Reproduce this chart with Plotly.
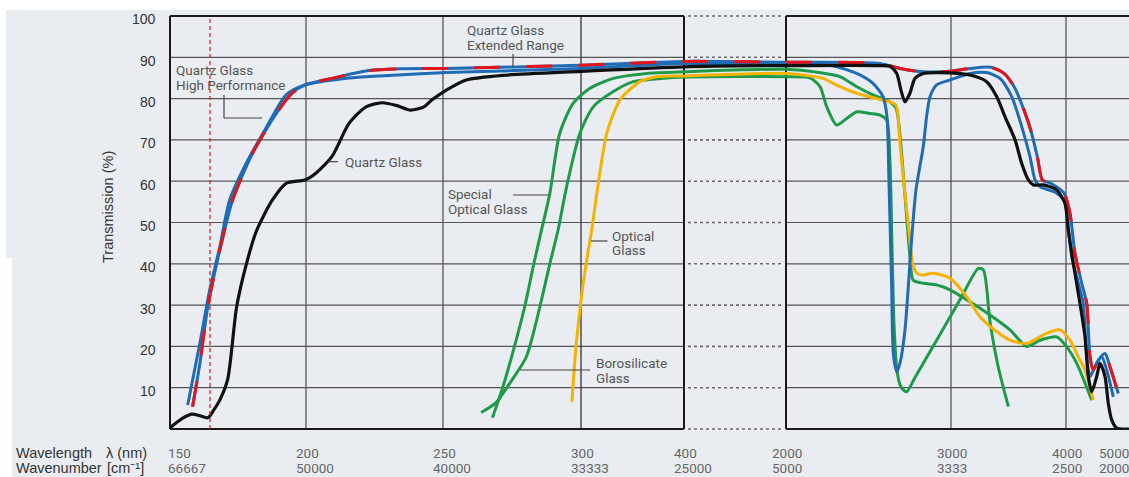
import numpy as np
import plotly.graph_objects as go

# ---------------- custom broken wavelength scale (nm -> axis units) ----------------
AXIS_NM = [150, 200, 250, 300, 400, 2000, 3000, 4000, 5000, 6000]
AXIS_POS = [170, 306, 443, 581, 684, 786, 951, 1066, 1113, 1160]

TICK_NM = [150, 200, 250, 300, 400, 2000, 3000, 4000, 5000]
TICK_WAVENUMBER = ["66667", "50000", "40000", "33333", "25000", "5000", "3333", "2500", "2000"]
Y_TICKS = [10, 20, 30, 40, 50, 60, 70, 80, 90, 100]
GRID_NM = [200, 250, 300, 3000, 4000]
BREAK_NM = [400, 2000]
MARK_NM = 164.7  # red dashed marker line

# ---------------- data (transmission %) ----------------
QG_WL = [150, 154.4, 157.9, 161, 163.9, 166, 168.3, 171.2, 174.5, 178.1,
         181.8, 187.6, 192.7, 199.6, 203.7, 209.5, 215.7, 221.9, 227.7, 233.2,
         238.2, 243, 246, 251.1, 258.4, 273, 300, 400, 2000, 2570,
         2630, 2671, 2697, 2721, 2751, 2782, 2832, 2933, 3165, 3310,
         3397, 3470, 3557, 3615, 3673, 3716, 3803, 3919, 3991, 4049,
         4155, 4298, 4404, 4475, 4547, 4653, 4724, 4830, 4900, 4972,
         5079, 5340]
QG_T = [0.3, 2.5, 3.6, 3.2, 2.7, 4.5, 7, 12, 29.6, 40,
        48, 55.4, 59.5, 60.3, 62, 66, 74, 78, 79, 78.3,
        77.2, 78, 79.7, 82, 84.5, 85.7, 86.6, 87.7, 88, 88,
        87.8, 86.1, 82, 79.2, 81.3, 84.9, 86.1, 86.3, 85.7, 84.1,
        80.5, 75.6, 70, 64.3, 60.3, 59.1, 59.1, 57.9, 54.6, 48.2,
        40.1, 30.4, 22.3, 12.7, 9, 12.7, 15.9, 12.7, 6.2, 2.2,
        0.2, 0]

QHP_WL = [156.5, 161, 164.6, 168.3, 171.9, 178.1, 185.4, 192.7, 199.6, 215.7,
          226.7, 251.1, 300, 400, 2000, 2267, 2428, 2527, 2588, 2612,
          2624, 2640, 2651, 2671, 2691, 2721, 2761, 2788, 2832, 2852,
          2873, 2913, 2994, 3165, 3310, 3426, 3528, 3615, 3687, 3731,
          3774, 3919, 3991, 4030, 4121, 4262, 4368, 4441, 4511, 4617,
          4760, 4866, 5007]
QHP_T = [5.8, 20.8, 33.7, 44.1, 55.4, 64.4, 73, 80.9, 83.3, 85,
         85.5, 86.3, 87.3, 88.5, 88.3, 88.1, 86.1, 83.7, 80.5, 75.6,
         60, 35, 18, 13.9, 16, 24, 45.8, 58, 68.4, 75.6,
         80.5, 83.3, 84.5, 86.1, 86.3, 84.9, 80.5, 73.2, 65.9, 60.3,
         58.7, 57.1, 55, 50.6, 41.7, 35.3, 30.4, 17.5, 12.7, 15.1,
         17.5, 14.3, 7.8]

QER_WL = [158.3, 161, 163.9, 168.3, 173, 180.3, 189.1, 194.9, 199.6, 209.5,
          221.9, 234, 251.1, 300, 400, 2000, 2570, 2691, 2832, 2994,
          3165, 3345, 3461, 3548, 3635, 3693, 3751, 3795, 3867, 3983,
          4085, 4191, 4334, 4441, 4511, 4581, 4687, 4830, 4936, 5113]
QER_T = [5.4, 15.9, 29.6, 43.3, 55.4, 66.7, 76.4, 81.3, 83.3, 84.9,
         86.7, 87.2, 87.3, 88.1, 89, 88.8, 88.5, 87.3, 86.5, 86.6,
         87.3, 87.6, 86.1, 82.9, 77.2, 72.4, 65.9, 60.3, 59.5, 57.1,
         52.2, 42.5, 35.3, 30.4, 17.5, 14.3, 16.7, 18.3, 15.1, 8.6]

SOG_WL = [267.9, 271.7, 275.9, 279.6, 282.9, 285.7, 288.7, 292.3, 297.2, 308.7,
          331.4, 363.8, 400, 2000, 2200, 2327, 2424, 2527, 2630, 2667,
          2691, 2721, 2751, 2771, 2832, 2913, 2994, 3165, 3339, 3513,
          3658, 3774, 3919, 4015, 4228, 4547]
SOG_T = [2.7, 10.2, 20, 29.6, 40, 48.2, 57, 71.6, 78.9, 82.5,
         84.9, 86.1, 86.5, 87.1, 86.3, 85.3, 83, 80.9, 79.2, 77.7,
         71, 56.5, 42, 36, 35.3, 34.9, 33.7, 30.8, 27.6, 24,
         20, 21.5, 22.3, 19.9, 15.9, 7]

BORO_WL = [263.8, 266.8, 269.4, 274.1, 280.2, 285.1, 288.7, 291.7, 294.8, 299.6,
           311.9, 331.4, 350.8, 379.9, 400, 2000, 2145, 2206, 2247, 2307,
           2368, 2430, 2509, 2570, 2610, 2630, 2642, 2655, 2673, 2697,
           2731, 2782, 2933, 3078, 3238, 3282, 3339, 3411, 3499]
BORO_T = [4, 5.2, 6.5, 11, 17.5, 29.6, 40, 48.2, 58.7, 71.6,
          78, 81.7, 84.1, 84.9, 85.2, 85.3, 85, 82.9, 78, 73.6,
          75.2, 76.8, 76.4, 76, 74.8, 65, 45, 25, 14, 10.2,
          9, 12.5, 22.9, 31.3, 38.9, 38.5, 26, 15, 5.4]

OG_WL = [296.7, 298.2, 301.3, 307.1, 310.4, 316.8, 325, 337.9, 357.3, 373.5,
         400, 2000, 2145, 2224, 2327, 2428, 2550, 2630, 2667, 2691,
         2721, 2745, 2771, 2800, 2832, 2893, 2994, 3137, 3252, 3397,
         3513, 3658, 3832, 3948, 4085, 4262, 4404, 4581]
OG_T = [6.6, 20, 33.7, 43.3, 48.2, 59.5, 71.6, 79.7, 84.1, 85.3,
        85.5, 86.1, 85.5, 84.9, 82.9, 81.3, 80, 79.2, 78.4, 69,
        57, 48, 39.5, 37.5, 37.3, 37.7, 36.5, 32, 27.2, 23.6,
        21.5, 20.7, 23.2, 24, 21.5, 17.5, 14.3, 7]

# ---------------- geometry helpers ----------------
W, H = 1129, 477
ML, MT, MB = 170, 16, 48
PW, PH = W - ML, H - MT - MB


def u(nm):
    return np.interp(np.asarray(nm, dtype=float), AXIS_NM, AXIS_POS)


def xp(px):  # pixel x -> paper
    return (px - ML) / PW


def yp(py):  # pixel y -> paper
    return (H - MB - py) / PH


def tp(t):  # transmission -> paper
    return t / 100.0


BLUE = "#1f6cb5"
RED = "#e3151b"
GREEN = "#1f9a4a"
YELLOW = "#f5b300"
BLACK = "#111111"
BG = "#e9edf1"

fig = go.Figure()


def add_curve(wl, t, color, width=3.0, dash=None):
    fig.add_trace(go.Scatter(
        x=u(wl), y=t, mode="lines",
        line=dict(color=color, width=width, shape="spline", smoothing=0.7,
                  dash=dash),
        hoverinfo="skip", showlegend=False))


add_curve(SOG_WL, SOG_T, GREEN)
add_curve(BORO_WL, BORO_T, GREEN)
add_curve(OG_WL, OG_T, YELLOW)
add_curve(QHP_WL, QHP_T, BLUE)
add_curve(QER_WL, QER_T, BLUE)
add_curve(QER_WL, QER_T, RED, dash="26px,26px")
add_curve(QG_WL, QG_T, BLACK, width=3.2)

shapes = []
L, R = u(150), W
B1, B2 = u(BREAK_NM[0]), u(BREAK_NM[1])


def line(x0, y0, x1, y1, color, width, dash=None, layer="below"):
    shapes.append(dict(type="line", xref="paper", yref="paper",
                       x0=x0, y0=y0, x1=x1, y1=y1, layer=layer,
                       line=dict(color=color, width=width, dash=dash)))


# white margins of the original picture
for (x0, y0, x1, y1) in [(0, 0, W, 10), (0, 0, 6, 258), (0, 258, 12, H)]:
    shapes.append(dict(type="rect", xref="paper", yref="paper",
                       x0=xp(x0), x1=xp(x1), y0=yp(y1), y1=yp(y0),
                       fillcolor="white", line=dict(width=0), layer="below"))

# horizontal grid
for t in Y_TICKS[:-1]:
    line(xp(L), tp(t), xp(B1), tp(t), "#555555", 1.2)
    line(xp(B2), tp(t), xp(R), tp(t), "#555555", 1.2)
# dotted grid in the break
for t in [0] + Y_TICKS:
    line(xp(B1 + 4), tp(t), xp(B2 - 4), tp(t), "#6a6a6a", 1.6, dash="dot")
# vertical grid
for g in GRID_NM:
    col = "#333333" if g == 300 else "#555555"
    line(xp(u(g)), 0, xp(u(g)), 1, col, 1.3)
# borders
for xx in [L, B1, B2]:
    line(xp(xx), 0, xp(xx), 1, "#1a1a1a", 2)
for t in [0, 100]:
    line(xp(L), tp(t), xp(B1), tp(t), "#1a1a1a", 2)
    line(xp(B2), tp(t), xp(R), tp(t), "#1a1a1a", 2)
# red dashed marker
line(xp(u(MARK_NM)), 0, xp(u(MARK_NM)), 1, "#e8232a", 1.3, dash="4px,3px", layer="above")

# leader lines for labels (pixel coordinates)
LEADERS = [
    [(224, 95), (224, 118), (262, 118)],
    [(328, 161.7), (338, 161.7)],
    [(513, 54), (513, 67)],
    [(513, 195), (548, 195)],
    [(591, 241), (607.5, 241)],
    [(520, 370), (590, 370)],
]
for pts in LEADERS:
    for (a, b) in zip(pts[:-1], pts[1:]):
        line(xp(a[0]), yp(a[1]), xp(b[0]), yp(b[1]), "#444444", 1.2, layer="above")

annotations = []


def text(s, px, py, size=13.5, color="#555555", family="Roboto", anchor="left",
         angle=0):
    annotations.append(dict(text=s, xref="paper", yref="paper", x=xp(px), y=yp(py),
                            xanchor=anchor, yanchor="middle", showarrow=False,
                            textangle=angle, borderpad=0,
                            font=dict(family=family, size=size, color=color)))


# curve labels
text("Quartz Glass", 175, 70)
text("High Performance", 175, 85)
text("Quartz Glass", 344, 161.7)
text("Quartz Glass", 466, 30)
text("Extended Range", 466, 45)
text("Special", 447, 194.3)
text("Optical Glass", 447, 209.3)
text("Optical", 611, 235.7)
text("Glass", 611, 250)
text("Borosilicate", 595, 363.3)
text("Glass", 595, 378.3)

# y tick labels
for t in Y_TICKS:
    text(str(t), 157, (H - MB) - t / 100 * PH + 3.5, size=14, color="#333333",
         family="Liberation Sans", anchor="right")
text("Transmission (%)", 108, 207, size=14.5, color="#333333",
     family="Liberation Sans", anchor="center", angle=-90)

# x tick labels (two rows)
for nm, wn in zip(TICK_NM, TICK_WAVENUMBER):
    cx = float(u(nm))
    left = cx - 3 if nm == TICK_NM[0] else cx - 3.75 * len(str(nm))
    text(str(nm), left, 453, size=13.5, color="#666666")
    text(wn, left, 468, size=13.5, color="#666666")
text("Wavelength", 15, 453, size=14.5, color="#333333", family="Liberation Sans")
text("λ (nm)", 105, 453, size=14.5, color="#333333", family="Liberation Sans")
text("Wavenumber", 15, 468, size=14.5, color="#333333", family="Liberation Sans")
text("[cm⁻¹]", 106, 468, size=14.5, color="#333333", family="Liberation Sans")

fig.update_layout(
    width=W, height=H,
    margin=dict(l=ML, r=0, t=MT, b=MB, pad=0),
    paper_bgcolor=BG, plot_bgcolor=BG,
    xaxis=dict(range=[ML, W], visible=False, fixedrange=True),
    yaxis=dict(range=[0, 100], visible=False, fixedrange=True),
    shapes=shapes, annotations=annotations, showlegend=False,
)

fig.write_html(
    "out.html",
    config={"displayModeBar": False},
    post_script="document.body.style.margin='0px';document.body.style.overflow='hidden';",
)
